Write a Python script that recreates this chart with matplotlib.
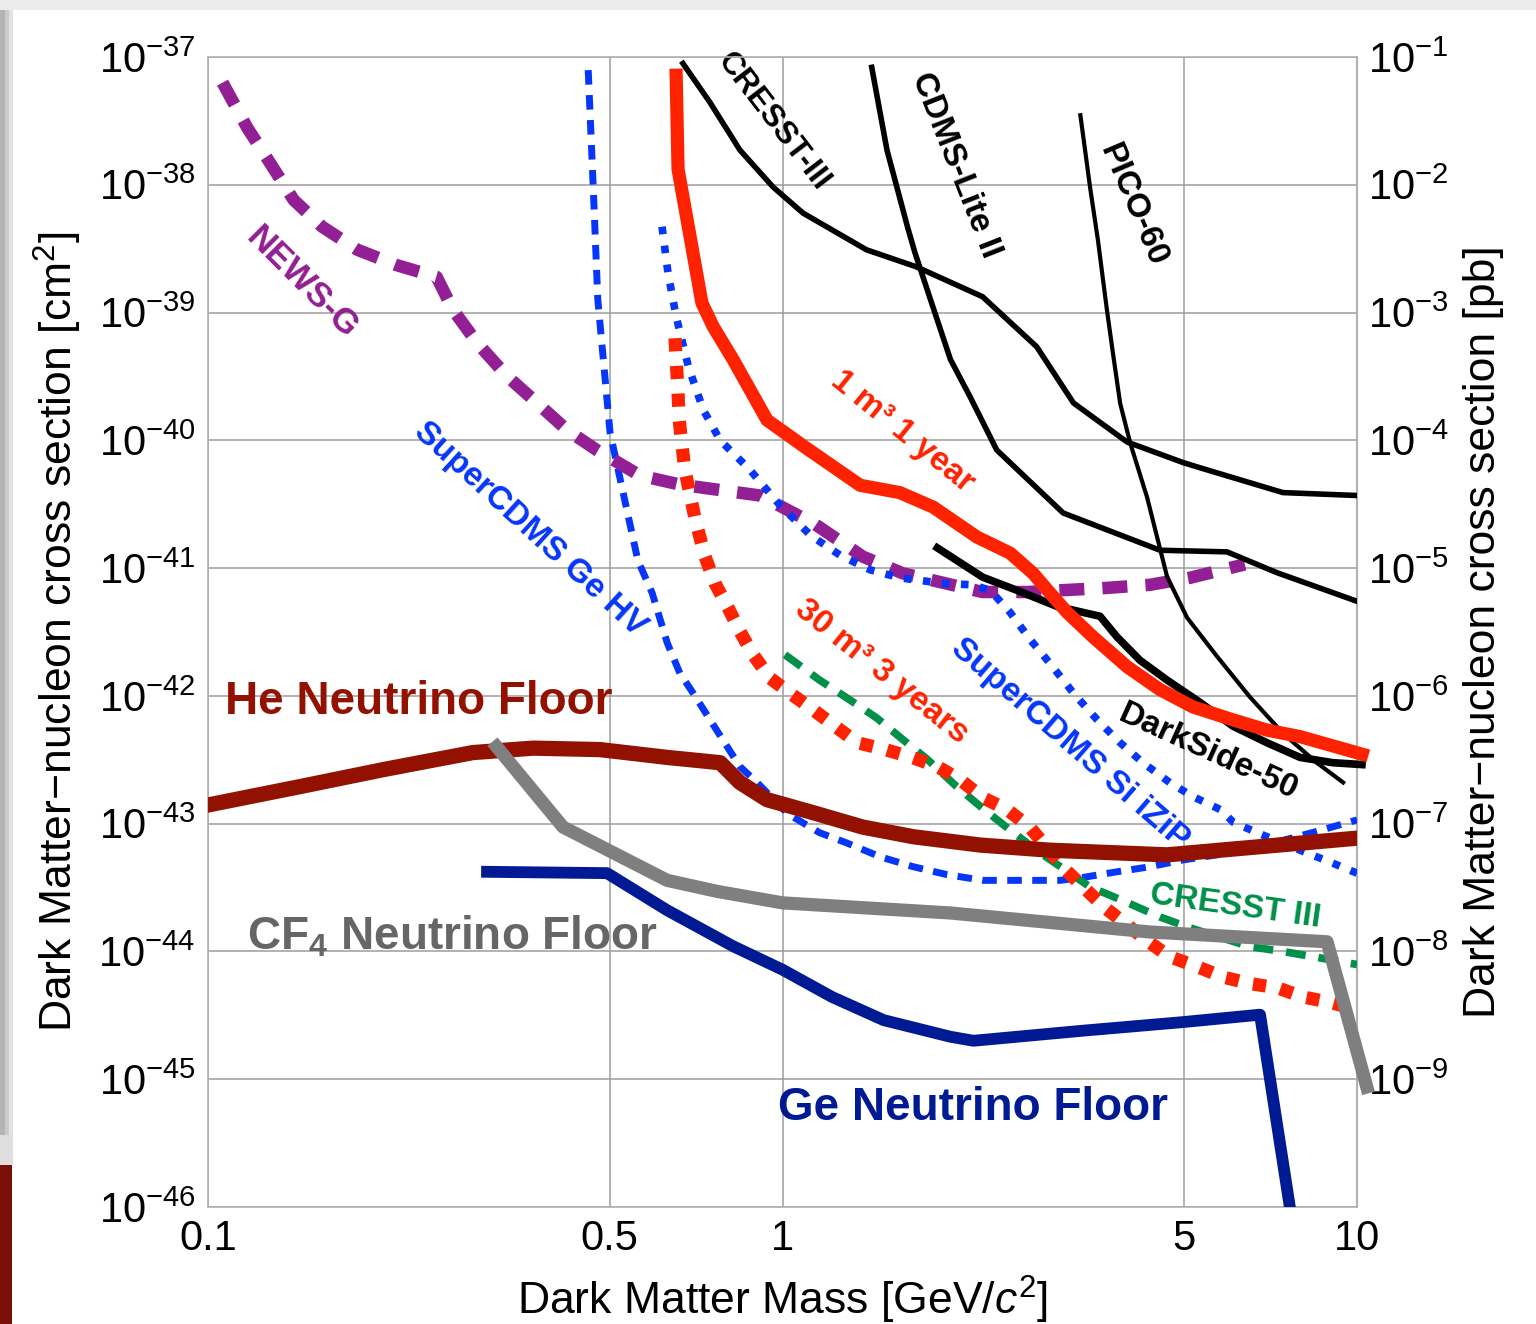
import matplotlib.pyplot as plt
from matplotlib.patches import Rectangle

plt.rcParams['font.family'] = ['Liberation Sans', 'DejaVu Sans']
plt.rcParams['mathtext.fontset'] = 'custom'
plt.rcParams['mathtext.rm'] = 'Liberation Sans'
plt.rcParams['mathtext.it'] = 'Liberation Sans:italic'
plt.rcParams['mathtext.bf'] = 'Liberation Sans:bold'

# WIMP mass [GeV/c^2] and spin-independent cross section [cm^2]
newsg_mass = [0.106, 0.117, 0.128, 0.141, 0.158, 0.182, 0.213, 0.250, 0.267, 0.294, 0.331, 0.374,
              0.422, 0.475, 0.565, 0.664, 0.914, 1.14, 1.38, 1.62, 2.23, 2.67, 3.67, 4.36, 5.12, 6.38]
newsg_xsec = [6.3e-38, 2.8e-38, 1.5e-38, 7.6e-39, 4.7e-39, 3.1e-39, 2.35e-39, 1.9e-39, 1.05e-39, 5.8e-40,
              3.2e-40, 1.96e-40, 1.2e-40, 8.4e-41, 5.3e-41, 4.5e-41, 3.7e-41, 2.2e-41, 1.23e-41, 9.1e-42,
              6.5e-42, 6.5e-42, 7.0e-42, 7.4e-42, 8.4e-42, 1.07e-41]

gehv_mass = [0.459, 0.468, 0.477, 0.501, 0.560, 0.593, 0.630, 0.663, 0.699, 0.748, 0.788, 0.843, 0.903,
             1.02, 1.16, 1.29, 1.48, 1.69, 1.93, 2.23, 2.73, 3.04, 3.34, 3.82, 4.36, 4.98, 5.70, 6.51,
             7.43, 8.51, 10.0]
gehv_xsec = [7.9e-38, 1.03e-38, 1.26e-39, 1.15e-40, 1.15e-41, 6.4e-42, 2.6e-42, 1.5e-42, 1.05e-42, 6.5e-43,
             4.5e-43, 2.8e-43, 2.1e-43, 1.2e-43, 8.5e-44, 7.1e-44, 5.5e-44, 4.6e-44, 4.0e-44, 3.6e-44,
             3.6e-44, 3.6e-44, 3.8e-44, 4.2e-44, 4.6e-44, 5.2e-44, 5.7e-44, 6.5e-44, 7.4e-44, 8.7e-44,
             1.07e-43]

sizip_mass = [0.617, 0.632, 0.653, 0.686, 0.728, 0.779, 0.877, 0.99, 1.12, 1.26, 1.42, 1.60, 1.90, 2.14,
              2.30, 2.49, 2.70, 2.92, 3.21, 3.53, 3.87, 4.24, 4.72, 5.18, 5.78, 6.10, 6.97, 7.96, 9.08,
              10.0]
sizip_xsec = [4.7e-39, 2.04e-39, 9.3e-40, 3.75e-40, 1.73e-40, 1.0e-40, 5.9e-41, 3.1e-41, 1.8e-41, 1.26e-41,
              9.7e-42, 8.4e-42, 7.6e-42, 7.4e-42, 6.7e-42, 4.5e-42, 2.75e-42, 1.8e-42, 1.05e-42, 6.5e-43,
              4.3e-43, 3.0e-43, 2.1e-43, 1.63e-43, 1.29e-43, 1.02e-43, 7.9e-44, 6.2e-44, 4.9e-44, 4.1e-44]

# projected sensitivities
one_m3_mass = [0.653, 0.658, 0.724, 0.757, 0.82, 0.94, 1.10, 1.365, 1.60, 1.83, 2.18, 2.49, 2.73, 2.92,
               3.13, 3.47, 3.98, 4.54, 5.18, 6.08, 6.97, 7.96, 10.2]
one_m3_xsec = [7.2e-38, 1.32e-38, 1.19e-39, 7.8e-40, 4.3e-40, 1.44e-40, 8.7e-41, 4.45e-41, 3.9e-41, 3.0e-41,
               1.75e-41, 1.31e-41, 9.1e-42, 6.4e-42, 4.5e-42, 2.9e-42, 1.69e-42, 1.12e-42, 8.2e-43, 6.5e-43,
               5.4e-43, 4.8e-43, 3.5e-43]

thirty_m3_mass = [0.650, 0.658, 0.661, 0.676, 0.705, 0.733, 0.763, 0.804, 0.843, 0.889, 0.951, 1.04, 1.13,
                  1.24, 1.35, 1.51, 1.68, 1.86, 2.04, 2.23, 2.46, 2.70, 3.10, 3.64, 4.36, 4.72, 5.27, 5.85,
                  6.51, 7.26, 8.06, 8.97, 10.0]
thirty_m3_xsec = [6.3e-40, 2.34e-40, 1.44e-40, 5.9e-41, 2.4e-41, 1.23e-41, 7.6e-42, 4.9e-42, 3.2e-42,
                  2.1e-42, 1.38e-42, 1.02e-42, 7.8e-43, 5.7e-43, 4.3e-43, 3.8e-43, 3.3e-43, 2.8e-43, 2.2e-43,
                  1.6e-43, 1.29e-43, 9.3e-44, 4.4e-44, 2.2e-44, 1.17e-44, 9.1e-45, 7.6e-45, 6.3e-45, 5.6e-45,
                  5.2e-45, 4.4e-45, 4.0e-45, 3.5e-45]

cresst_proj_mass = [1.01, 1.16, 1.31, 1.46, 1.62, 1.785, 2.01, 2.23, 2.49, 2.81, 3.43, 3.91, 4.54, 5.12,
                    6.51, 7.43, 8.62, 10.0]
cresst_proj_xsec = [2.1e-42, 1.33e-42, 9.3e-43, 6.7e-43, 4.55e-43, 3.2e-43, 1.95e-43, 1.32e-43, 8.9e-44,
                    5.9e-44, 3.2e-44, 2.5e-44, 1.86e-44, 1.53e-44, 1.09e-44, 1.0e-44, 8.9e-45, 7.9e-45]

# current limits
cresst_mass = [0.671, 0.748, 0.843, 0.963, 1.086, 1.40, 1.71, 2.23, 2.77, 3.21, 3.98, 4.98, 5.33, 7.43, 10.0]
cresst_xsec = [8.9e-38, 4.4e-38, 1.87e-38, 9.6e-39, 6.0e-39, 3.1e-39, 2.28e-39, 1.33e-39, 5.4e-40, 1.96e-40,
               9.7e-41, 6.7e-41, 6.1e-41, 3.9e-41, 3.7e-41]

cdmslite_mass = [1.43, 1.52, 1.65, 1.70, 1.81, 1.96, 2.12, 2.36, 3.08, 4.54, 5.94, 7.26, 10.0]
cdmslite_xsec = [8.3e-38, 1.87e-38, 4.7e-39, 2.95e-39, 1.26e-39, 4.3e-40, 2.2e-40, 8.4e-41, 2.7e-41,
                 1.38e-41, 1.34e-41, 9.2e-42, 5.5e-42]

pico_mass = [3.30, 3.43, 3.54, 3.67, 3.76, 3.87, 4.03, 4.31, 4.67, 5.06, 5.70, 6.51, 7.43, 8.51, 9.46]
pico_xsec = [3.5e-38, 9.6e-39, 3.7e-39, 1.05e-39, 4.8e-40, 1.95e-40, 9.5e-41, 3.6e-41, 8.6e-42, 4.1e-42,
             2.05e-42, 9.8e-43, 5.1e-43, 3.0e-43, 2.1e-43]

darkside_mass = [1.86, 2.23, 2.56, 3.01, 3.57, 3.82, 4.19, 4.67, 5.33, 6.08, 6.97, 7.96, 9.08, 10.2]
darkside_xsec = [1.44e-41, 8.5e-42, 6.7e-42, 5.0e-42, 4.2e-42, 2.9e-42, 1.9e-42, 1.33e-42, 8.9e-43, 5.8e-43,
                 4.3e-43, 3.3e-43, 3.0e-43, 2.9e-43]

# neutrino floors
he_floor_mass = [0.1, 0.1446, 0.202, 0.289, 0.368, 0.481, 0.630, 0.779, 0.843, 0.94, 1.13, 1.38, 1.69,
                 2.21, 2.92, 4.67, 6.51, 10.0]
he_floor_xsec = [1.4e-43, 1.95e-43, 2.65e-43, 3.6e-43, 3.9e-43, 3.8e-43, 3.3e-43, 3.0e-43, 2.1e-43,
                 1.54e-43, 1.22e-43, 9.4e-44, 7.9e-44, 6.8e-44, 6.2e-44, 5.7e-44, 6.5e-44, 7.7e-44]

cf4_floor_mass = [0.318, 0.415, 0.630, 0.77, 1.0, 1.96, 4.36, 8.87, 10.4]
cf4_floor_xsec = [4.0e-43, 9.4e-44, 3.6e-44, 2.95e-44, 2.4e-44, 2.0e-44, 1.42e-44, 1.19e-44, 8.7e-46]

ge_floor_mass = [0.306, 0.495, 0.630, 0.82, 1.0, 1.22, 1.50, 1.96, 2.15, 3.34, 4.98, 6.78, 7.64]
ge_floor_xsec = [4.2e-44, 4.1e-44, 2.1e-44, 1.1e-44, 7.2e-45, 4.4e-45, 2.9e-45, 2.15e-45, 2.0e-45,
                 2.4e-45, 2.8e-45, 3.2e-45, 1e-46]

x_ticks = [0.1, 0.5, 1, 5, 10]
x_tick_labels = ["0.1", "0.5", "1", "5", "10"]
y_exponents = list(range(-46, -36))
pb_exponents = list(range(-9, 0))

PURPLE = '#921f93'
BLUE = '#0536fa'
RED = '#ff2200'
GREEN = '#009048'
HE_RED = '#931100'
GREY = '#7f7f7f'
NAVY = '#001a94'


def cm2_to_pb(s):
    return s * 1e36


def pb_to_cm2(s):
    return s / 1e36


fig = plt.figure(figsize=(15.36, 13.24), dpi=100)

# window frame around the figure
fig.add_artist(Rectangle((0, 1 - 10 / 1324), 1, 10 / 1324, transform=fig.transFigure,
                         facecolor='#ececec', edgecolor='none', zorder=-5))
for x0, w, c in [(0, 5, '#b4b4b4'), (5, 4, '#cbcbcb'), (9, 4, '#e2e2e2')]:
    fig.add_artist(Rectangle((x0 / 1536, 189 / 1324), w / 1536, 1 - 199 / 1324, transform=fig.transFigure,
                             facecolor=c, edgecolor='none', zorder=-5))
fig.add_artist(Rectangle((0, 159 / 1324), 13 / 1536, 30 / 1324, transform=fig.transFigure,
                         facecolor='#dedede', edgecolor='none', zorder=-5))
fig.add_artist(Rectangle((0, 0), 12 / 1536, 159 / 1324, transform=fig.transFigure,
                         facecolor='#7c1008', edgecolor='none', zorder=-5))

ax = fig.add_axes([208 / 1536, 117 / 1324, 1149 / 1536, 1150 / 1324])
ax.set_xscale('log')
ax.set_yscale('log')
ax.set_xlim(0.1, 10)
ax.set_ylim(1e-46, 1e-37)

# existing limits
ax.plot(gehv_mass, gehv_xsec, color=BLUE, lw=5, ls=(0, (2.1, 1.5)), zorder=3)
ax.plot(sizip_mass, sizip_xsec, color=BLUE, lw=5.5, ls=(0, (1, 1.5)), zorder=3.1)
ax.plot(newsg_mass, newsg_xsec, color=PURPLE, lw=9, ls=(0, (2.0, 1.45)), zorder=3.05)
ax.plot(cresst_proj_mass, cresst_proj_xsec, color=GREEN, lw=5.5, ls=(0, (2.6, 1.7)), zorder=3.2)
ax.plot(thirty_m3_mass, thirty_m3_xsec, color=RED, lw=9.5, ls=(0, (1, 1.1)), zorder=3.3)
ax.plot(cresst_mass, cresst_xsec, color='black', lw=4.0, zorder=3.4)
ax.plot(cdmslite_mass, cdmslite_xsec, color='black', lw=4.0, zorder=3.4)
ax.plot(pico_mass, pico_xsec, color='black', lw=3.0, zorder=3.4)
ax.plot(darkside_mass, darkside_xsec, color='black', lw=5.5, zorder=3.4, clip_on=False)
ax.plot(one_m3_mass, one_m3_xsec, color=RED, lw=9.5, zorder=3.5, clip_on=False)

# neutrino floors
ax.plot(he_floor_mass, he_floor_xsec, color=HE_RED, lw=11, zorder=4)
ax.plot(ge_floor_mass, ge_floor_xsec, color=NAVY, lw=8.5, zorder=4.1)
ax.plot(cf4_floor_mass, cf4_floor_xsec, color=GREY, lw=9.5, zorder=4.2, clip_on=False)

# curve labels
lab = dict(rotation_mode='anchor', ha='center', va='center', zorder=2.5)
ax.text(0.146, 1.7e-39, "NEWS-G", color=PURPLE, fontsize=25, fontweight='bold', rotation=-45, **lab)
ax.text(0.963, 3.1e-38, "CRESST-III", color='black', fontsize=23, fontweight='bold', rotation=-52.5, **lab)
ax.text(2.0, 1.43e-38, "CDMS-Lite II", color='black', fontsize=24, fontweight='bold', rotation=-68.5, **lab)
ax.text(4.07, 6.9e-39, "PICO-60", color='black', fontsize=24, fontweight='bold', rotation=-67, **lab)
ax.text(1.615, 1.17e-40, "1 m³ 1 year", color=RED, fontsize=24, fontweight='bold', rotation=-39, **lab)
ax.text(1.49, 1.55e-42, "30 m³ 3 years", color=RED, fontsize=24, fontweight='bold', rotation=-38.5, **lab)
ax.text(0.363, 2.0e-41, "SuperCDMS Ge HV", color=BLUE, fontsize=24, fontweight='bold', rotation=-42.4, **lab)
ax.text(3.165, 4.2e-43, "SuperCDMS Si iZiP", color=BLUE, fontsize=24, fontweight='bold', rotation=-41, **lab)
ax.text(5.5, 3.6e-43, "DarkSide-50", color='black', fontsize=24, fontweight='bold', rotation=-24.4, **lab)
ax.text(6.13, 2.24e-44, "CRESST III", color=GREEN, fontsize=24, fontweight='bold', rotation=-8, **lab)

ax.text(0.107, 8.9e-43, "He Neutrino Floor", color=HE_RED, fontsize=33, fontweight='bold',
        ha='left', va='center', zorder=2.5)
ax.text(0.117, 1.3e-44, r"CF$_\mathbf{4}$ Neutrino Floor", color='#666666', fontsize=33,
        fontweight='bold', ha='left', va='center', zorder=2.5)
ax.text(0.982, 6.0e-46, "Ge Neutrino Floor", color=NAVY, fontsize=33, fontweight='bold',
        ha='left', va='center', zorder=2.5)

# axes, ticks and grid
ax.set_xticks(x_ticks, x_tick_labels)
ax.set_yticks([10.0 ** e for e in y_exponents], [r"$10^{%d}$" % e for e in y_exponents])
ax.minorticks_off()
ax.tick_params(axis='both', which='major', length=0, labelsize=30, pad=9)
ax.grid(True, color='#9c9c9c', lw=1.1, zorder=1)
for sp in ax.spines.values():
    sp.set_color('#b0b0b0')
    sp.set_linewidth(1.2)

sec = ax.secondary_yaxis('right', functions=(cm2_to_pb, pb_to_cm2))
sec.set_yticks([10.0 ** e for e in pb_exponents], [r"$10^{%d}$" % e for e in pb_exponents])
sec.minorticks_off()
sec.tick_params(axis='y', length=0, labelsize=30, pad=8)
sec.spines['right'].set_color('#b0b0b0')
sec.set_ylabel("Dark Matter−nucleon cross section [pb]", fontsize=32, labelpad=10)

ax.set_ylabel(r"Dark Matter−nucleon cross section [cm$^2$]", fontsize=32)
ax.yaxis.set_label_coords(-0.1076, 0.5)
ax.set_xlabel(r"Dark Matter Mass [GeV/$c^2$]", fontsize=32)
ax.xaxis.set_label_coords(0.5, -0.058)

fig.savefig('out.png', dpi=100)
